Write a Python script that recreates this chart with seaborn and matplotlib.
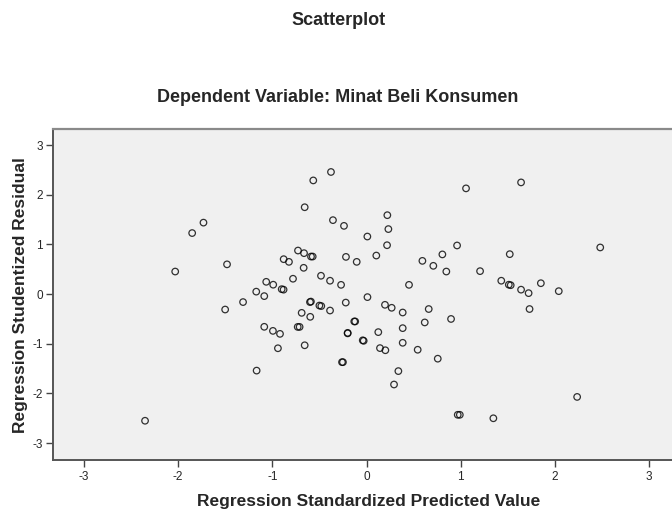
import matplotlib
matplotlib.use("Agg")
import matplotlib.pyplot as plt
import seaborn as sns
import pandas as pd

# values
pred = [-2.03, -1.85, -1.73, -1.48, -1.17, -0.377, -0.565, -0.656, -0.356, -0.239,
        0.221, 0.232, 0.009, 0.218, 0.104, -0.218, -0.104, -0.727, -0.663, -0.589,
        -0.571, -0.879, -0.823, -0.667, -0.78, -0.483, -0.387, -0.27, -1.064, -0.99,
        -0.90, -0.88, 0.451, 0.593, 0.709, 0.805, 0.847, 0.961, 1.056, 1.64,
        1.52, 1.205, 2.48, 1.43, 1.51, 1.53, 1.85, 1.64, 1.72, 2.04,
        1.73, 2.235, 1.346, 0.99, -1.31, -1.50, -1.166, -2.35, -1.085, -0.60,
        -0.59, -0.50, -0.48, -0.387, -0.22, 0.01, 0.196, 0.267, 0.384, 0.66,
        -0.688, -0.597, -1.085, -0.993, -0.918, -0.73, -0.71, -0.13, -0.12, -0.20,
        -0.20, -0.04, -0.03, 0.125, 0.384, 0.618, 0.897, 0.384, 0.543, 0.756,
        0.143, 0.20, -0.94, -0.656, -0.26, -0.25, 0.338, 0.292, 0.968]
resid = [0.455, 1.23, 1.44, 0.60, 0.05, 2.46, 2.29, 1.75, 1.49, 1.375,
         1.59, 1.31, 1.16, 0.985, 0.777, 0.75, 0.65, 0.878, 0.825, 0.757,
         0.757, 0.704, 0.65, 0.53, 0.31, 0.37, 0.27, 0.187, 0.248, 0.19,
         0.10, 0.09, 0.187, 0.67, 0.57, 0.80, 0.455, 0.98, 2.13, 2.25,
         0.805, 0.463, 0.94, 0.27, 0.19, 0.18, 0.22, 0.09, 0.02, 0.06,
         -0.30, -2.07, -2.50, -2.43, -0.16, -0.31, -1.54, -2.55, -0.04, -0.16,
         -0.15, -0.23, -0.24, -0.33, -0.17, -0.06, -0.215, -0.275, -0.37, -0.30,
         -0.377, -0.457, -0.658, -0.74, -0.80, -0.66, -0.66, -0.55, -0.55, -0.79,
         -0.78, -0.93, -0.94, -0.765, -0.685, -0.57, -0.50, -0.98, -1.12, -1.30,
         -1.087, -1.13, -1.09, -1.03, -1.37, -1.37, -1.55, -1.82, -2.43]

xticks = [-3, -2, -1, 0, 1, 2, 3]
yticks = [-3, -2, -1, 0, 1, 2, 3]

df = pd.DataFrame({"pred": pred, "resid": resid})

sns.set_style("ticks")
plt.rcParams["font.family"] = ["Liberation Sans", "DejaVu Sans"]
plt.rcParams["axes.unicode_minus"] = False

fig = plt.figure(figsize=(6.72, 5.12), dpi=100)
ax = fig.add_axes([0.0784, 0.1016, 0.934, 0.6459])
ax.set_facecolor("#F0F0F0")

sns.scatterplot(data=df, x="pred", y="resid", ax=ax, marker="o", s=22,
                facecolor="none", edgecolor="black", linewidth=0.9, alpha=0.8)

ax.set_xlim(-3.33, 3.33)
ax.set_ylim(-3.34, 3.32)
ax.set_xticks(xticks)
ax.set_yticks(yticks)
ax.tick_params(axis="both", labelsize=8.5, length=5, width=1, color="#444444")
ax.tick_params(axis="x", pad=3)
ax.tick_params(axis="y", pad=2)

for side in ["left", "bottom"]:
    ax.spines[side].set_color("#555555")
    ax.spines[side].set_linewidth(1.4)
for side in ["top", "right"]:
    ax.spines[side].set_visible(True)
    ax.spines[side].set_color("#8A8A8A")
    ax.spines[side].set_linewidth(1.6)

ax.set_xlabel("")
ax.set_ylabel("")
fig.text(0.548, 0.02, "Regression Standardized Predicted Value",
         ha="center", va="center", fontsize=12.5, fontweight="bold")
fig.text(0.03, 0.424, "Regression Studentized Residual", rotation=90,
         ha="center", va="center", fontsize=12.5, fontweight="bold")
fig.text(0.503, 0.959, "Scatterplot", ha="center", va="center",
         fontsize=13, fontweight="bold")
fig.text(0.503, 0.809, "Dependent Variable: Minat Beli Konsumen", ha="center",
         va="center", fontsize=13, fontweight="bold")

fig.savefig("out.png", dpi=100)
